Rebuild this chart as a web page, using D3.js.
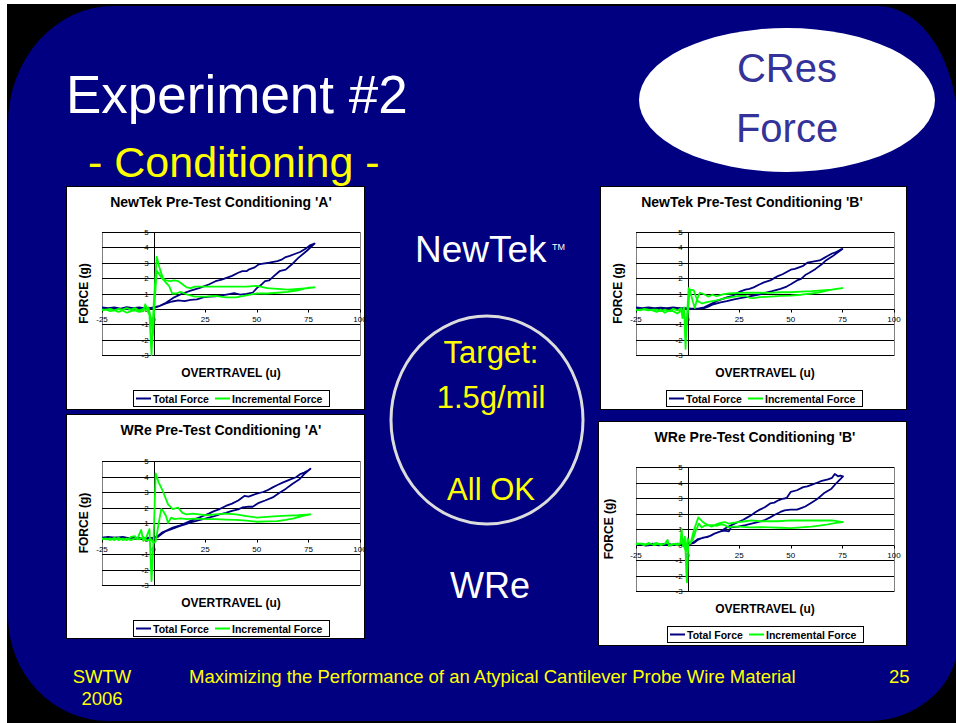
<!DOCTYPE html>
<html>
<head>
<meta charset="utf-8">
<script src="https://cdn.jsdelivr.net/npm/d3@7"></script>
<style>
  html, body { margin: 0; padding: 0; background: #fff; }
  svg { display: block; }
</style>
</head>
<body>
<div id="slide"></div>
<script>
// Data: [overtravel, force] pairs, loading branch then unloading branch
const newTekA_total = [[-25,0.1],[-22,0.05],[-19,0.1],[-16,0.02],[-13,0.12],[-10,0.05],[-7,0.1],[-4,0.03],[-1,0.08],[0,0.1],
  [3,0.2],[6,0.35],[9,0.48],[12,0.55],[15,0.5],[18,0.58],[21,0.62],[24,0.75],[27,0.8],[30,0.82],[33,0.88],[36,0.95],[39,1.02],[42,0.92],[45,0.98],[48,1.05],[50,1.35],[52,1.55],[54,1.8],[56,1.85],[58,2.1],[61,2.45],[64,2.55],[67,2.9],[70,3.3],[74,3.75],[78,4.25],
  [76,4.15],[74,3.95],[71,3.7],[69,3.6],[66,3.45],[64,3.37],[62,3.2],[60,3.1],[58,3.05],[56,3.0],[53,2.95],[51,2.9],[49,2.7],[48,2.65],[46,2.55],[45,2.45],[43,2.45],[41,2.35],[38,2.15],[35,2.0],[33,1.9],[30,1.8],[27,1.6],[25,1.5],[22,1.35],[18,1.18],[14,1.0],[10,0.75],[6,0.4],[3,0.2],[0,0.05],[-3,0.02],[-6,-0.02],[-9,0.04],[-12,-0.03],[-15,0.02],[-18,-0.02],[-21,0.03],[-25,0.05]];
const newTekA_incr = [[-25,-0.1],[-23,-0.05],[-21,-0.15],[-19,-0.1],[-17,-0.2],[-15,-0.1],[-13,-0.25],[-11,-0.15],[-9,-0.1],[-7,-0.2],[-5,-0.15],[-4,0.3],[-3,-0.1],[-2,-0.4],[-1,-3.0],[0,0.2],[1.5,3.4],[3,2.6],[4.5,2.0],[6,1.85],[8,1.8],[10,1.85],[12,1.8],[14,1.6],[16,1.4],[18,1.35],[20,1.45],[25,1.45],[30,1.45],[35,1.45],[40,1.45],[45,1.45],[50,1.5],[55,1.35],[60,1.3],[65,1.25],[70,1.3],[75,1.35],[78,1.4],
  [75,1.38],[70,1.2],[65,1.1],[60,1.05],[55,1.0],[50,1.0],[45,0.88],[40,0.75],[35,0.75],[30,0.85],[25,0.8],[20,0.8],[16,0.95],[13,1.1],[11,1.0],[9,1.0],[7.5,1.5],[6,1.7],[4,2.0],[2.5,2.3],[1.5,2.5],[0.5,0.4],[-0.3,-1.7],[-1.3,-0.6],[-2.5,0.1],[-3.5,-0.05],[-5,0],[-7,-0.1],[-9,0.05],[-11,-0.05],[-13,0.05],[-15,-0.05],[-17,0],[-19,-0.1],[-21,0],[-23,-0.05],[-25,-0.05]];

const newTekB_total = [[-25,0.1],[-22,0.05],[-19,0.1],[-16,0.05],[-13,0.08],[-10,0.05],[-7,0.1],[-4,0.05],[-1,0.05],[2,0.02],[5,0.02],[8,0.05],[10,0.15],[12.5,0.3],[16,0.42],[19,0.5],[22,0.6],[25.5,0.7],[29,0.78],[32,0.87],[35,0.95],[38,1.05],[41,1.15],[45,1.3],[48,1.45],[50,1.6],[53,1.85],[55,1.95],[57,2.2],[59,2.35],[62,2.6],[65,2.9],[67,3.15],[70,3.4],[72,3.6],[75,3.9],
  [74,3.85],[72,3.7],[70,3.6],[68,3.45],[66,3.3],[64,3.15],[62,3.1],[60,3.05],[58,3.0],[56,2.8],[54,2.7],[52,2.6],[50,2.55],[48,2.4],[46,2.25],[44,2.15],[42,2.0],[40,1.85],[37,1.72],[35,1.6],[32,1.4],[30,1.3],[28,1.25],[25,1.1],[22,0.85],[19,0.75],[16,0.6],[14,0.5],[11,0.3],[8,0.1],[5,0.02],[2,0.0],[-1,0.0],[-4,0.05],[-7,0.02],[-10,0.05],[-13,0],[-16,0.05],[-19,0.02],[-22,0.05],[-25,0.05]];
const newTekB_incr = [[-25,-0.05],[-23,-0.1],[-21,0],[-19,-0.05],[-17,-0.1],[-15,-0.2],[-13,-0.05],[-11,-0.25],[-9,-0.1],[-7,-0.15],[-5,-0.3],[-3,-0.1],[-2.5,-0.6],[-1.7,0.1],[-1,-2.6],[-0.3,-0.5],[0.5,1.35],[1.5,1.0],[2.5,0.5],[3.5,0.05],[4.5,0.6],[6,1.05],[8,0.95],[10,0.8],[12,0.92],[14,0.82],[17,0.95],[20,1.0],[25,1.04],[30,1.06],[35,1.05],[40,1.04],[45,1.08],[50,1.08],[55,1.12],[60,1.15],[65,1.2],[70,1.25],[75,1.35],
  [72,1.3],[68,1.2],[64,1.08],[60,1.0],[55,0.92],[50,0.86],[45,0.84],[40,0.8],[35,0.76],[32,0.7],[30,0.72],[28,0.85],[25,0.85],[22,0.78],[18,0.68],[14,0.55],[10,0.45],[7,0.35],[5,0.5],[4,0.8],[3,1.2],[1.5,1.25],[0.8,0.9],[0,-0.5],[-0.8,-1.8],[-1.5,-0.2],[-2.2,-0.3],[-3,0.05],[-5,-0.1],[-7,0],[-9,-0.15],[-11,-0.05],[-13,-0.15],[-15,-0.05],[-17,-0.05],[-19,-0.1],[-21,-0.05],[-23,-0.05],[-25,-0.1]];

const wreA_total = [[-25,0.05],[-22,0.1],[-19,0.05],[-16,0.08],[-13,0.02],[-10,0.05],[-7,0.0],[-4,0.03],[-1,0.02],[2,0.1],[4,0.3],[6,0.48],[9,0.62],[12.5,0.8],[16,0.95],[19,1.08],[22,1.18],[25.5,1.3],[29,1.42],[32,1.55],[35,1.65],[38,1.78],[41,1.88],[43,2.0],[46,2.05],[48,2.05],[51,2.3],[54,2.45],[57.7,2.65],[61,2.95],[64,3.2],[67,3.5],[70.5,3.8],[73,4.15],[76,4.5],
  [75,4.4],[73,4.25],[71,4.15],[69,3.95],[66,3.8],[62.5,3.6],[60,3.45],[57.7,3.3],[55,3.1],[53,3.0],[50,2.9],[48,2.8],[46,2.7],[44,2.75],[43,2.65],[41,2.45],[38,2.25],[35,2.1],[32,1.9],[29,1.75],[27,1.62],[24,1.45],[22,1.35],[19,1.2],[16,1.02],[13,0.85],[9.3,0.7],[6,0.5],[4,0.38],[2,0.15],[0,0.02],[-3,0.05],[-6,0.0],[-9,0.05],[-12,0.02],[-15,0.1],[-18,0.05],[-21,0.08],[-25,0.0]];
const wreA_incr = [[-25,-0.05],[-23,0.0],[-21,-0.1],[-19,0.05],[-17,-0.1],[-15,0.0],[-13,-0.1],[-11,0.1],[-9,0.15],[-8,-0.05],[-6,0.55],[-5,-0.15],[-3.5,0.1],[-2,0.6],[-1,-2.75],[0,0.0],[1,4.2],[2.5,3.6],[4.5,3.05],[7,2.2],[9.3,1.9],[11.8,2.0],[14,1.65],[16,1.55],[19,1.6],[22,1.55],[25.5,1.5],[30,1.55],[35,1.6],[40,1.55],[45,1.45],[50,1.35],[55,1.4],[60,1.45],[65,1.48],[70,1.5],[76,1.55],
  [72,1.45],[68,1.3],[64,1.2],[60,1.12],[55,1.1],[50,1.08],[45,1.15],[40,1.2],[35,1.22],[30,1.25],[25,1.25],[20,1.28],[16,1.25],[13,1.3],[10,1.25],[8.5,1.35],[7,1.0],[6,1.45],[4.5,1.8],[3.7,1.9],[2.5,1.0],[1,-0.2],[0,-0.3],[-1.5,0.0],[-3,-0.15],[-5,0.1],[-7,-0.05],[-9,0.0],[-11,-0.1],[-13,0.0],[-15,-0.1],[-17,0.05],[-19,-0.1],[-21,0.0],[-23,-0.05],[-25,0.0]];

const wreB_total = [[-25,0.05],[-22,0.0],[-19,-0.05],[-16,0.05],[-13,0.0],[-10,0.05],[-7,-0.02],[-4,0.03],[-1,0.0],[1,0.02],[3,0.15],[5,0.35],[8,0.45],[11,0.55],[13,0.7],[16,0.85],[18,0.9],[20,0.85],[21,1.1],[24.5,1.15],[28,1.25],[31,1.35],[34,1.45],[37,1.55],[40,1.75],[42,1.9],[45,2.1],[47,2.2],[50,2.25],[53,2.25],[55,2.35],[57,2.45],[60,2.7],[63,2.95],[66,3.3],[69.7,3.6],[72,3.95],[75.3,4.4],
  [74,4.45],[72.9,4.4],[71.3,4.55],[70,4.3],[68,4.2],[65,4.1],[63,4.0],[60,3.85],[58,3.75],[56,3.7],[53,3.5],[50,3.4],[48,3.0],[46,2.95],[44,2.85],[42,2.7],[40,2.65],[37.4,2.4],[35,2.25],[33,2.1],[31,1.9],[29,1.75],[27,1.6],[24.5,1.45],[22,1.3],[19,1.1],[16,0.85],[13,0.7],[10,0.5],[7,0.42],[5,0.3],[3,0.1],[1,0.02],[-2,0.0],[-5,0.05],[-8,-0.05],[-11,0.0],[-14,-0.05],[-17,0.05],[-20,-0.08],[-23,0.0],[-25,0.0]];
const wreB_incr = [[-25,0.0],[-23,0.05],[-21,-0.05],[-19,0.1],[-17,0.0],[-15,0.1],[-13,-0.05],[-11,0.05],[-9.7,0.3],[-9,-0.1],[-7,0.05],[-5,-0.05],[-3.5,0.1],[-2.9,1.0],[-2.2,-0.1],[-1.3,0.5],[-0.5,-2.1],[-0.3,-2.45],[0.3,0.0],[1.5,0.1],[3,0.9],[5.2,1.75],[7,1.5],[8.4,1.35],[10,1.25],[11.6,1.15],[13,1.25],[14.8,1.35],[16,1.4],[18,1.45],[20,1.35],[22,1.4],[24.5,1.45],[28,1.5],[31,1.55],[35,1.5],[40,1.5],[44,1.5],[50,1.55],[55,1.55],[60,1.55],[65,1.55],[70,1.55],[75.3,1.45],
  [72,1.4],[68,1.3],[64,1.22],[60,1.15],[55,1.1],[50,1.05],[45,1.08],[40,1.1],[35,1.12],[30,1.1],[25,1.15],[22,1.15],[20,1.1],[18,1.25],[16,1.3],[14,1.2],[12,1.25],[10,1.25],[8,1.2],[6.8,1.1],[5.5,1.35],[4,0.9],[2.5,0.3],[1,0.05],[0,0.4],[-0.8,-0.5],[-1.5,-0.2],[-2.5,0.15],[-4,0.0],[-6,0.05],[-8,-0.05],[-10,0.1],[-12,0.0],[-14,0.05],[-16,-0.05],[-18,0.05],[-20,0.0],[-22,0.05],[-25,0.05]];

const chartTitles = ["NewTek Pre-Test Conditioning 'A'", "NewTek Pre-Test Conditioning 'B'",
                     "WRe Pre-Test Conditioning 'A'", "WRe Pre-Test Conditioning 'B'"];
const seriesNames = ["Total Force", "Incremental Force"];
const xTicks = [-25, 0, 25, 50, 75, 100];
const yTicks = [-3, -2, -1, 0, 1, 2, 3, 4, 5];

// Styling
const FONT = "'Liberation Sans', Arial, Helvetica, sans-serif";
const NAVY = "#000080";
const GREEN = "#00FF00";
const YELLOW = "#FFFF00";
const SERIES_COLORS = [NAVY, GREEN];

// Chart placement on the slide
const charts = [
  { data: [newTekA_total, newTekA_incr], box: {x: 66, y: 186, w: 298, h: 223}, plot: {l: 102, t: 232, w: 258, h: 123}, titleX: 221, yTitleX: 88, legend: {x: 133, y: 390} },
  { data: [newTekB_total, newTekB_incr], box: {x: 600, y: 186, w: 306, h: 223}, plot: {l: 636, t: 232, w: 258, h: 123}, titleX: 752, yTitleX: 622, legend: {x: 666, y: 390} },
  { data: [wreA_total, wreA_incr],       box: {x: 66, y: 414, w: 298, h: 224}, plot: {l: 102, t: 461, w: 258, h: 124}, titleX: 221, yTitleX: 88, legend: {x: 133, y: 620} },
  { data: [wreB_total, wreB_incr],       box: {x: 598, y: 421, w: 308, h: 224}, plot: {l: 636, t: 467, w: 258, h: 124}, titleX: 755, yTitleX: 613, legend: {x: 667, y: 626} }
];

const W = 956, H = 723;
const svg = d3.select("#slide").append("svg")
  .attr("width", W).attr("height", H)
  .style("font-family", FONT);

// Background: black frame with navy rounded slide
svg.append("rect").attr("width", W).attr("height", H).attr("fill", "#fff");
svg.append("rect").attr("x", 7).attr("y", 4).attr("width", W - 7).attr("height", H - 4).attr("fill", "#000");

function slidePath(L, T, R, B, tl, tr, br, bl) {
  return `M${L + tl[0]},${T} H${R - tr[0]} A${tr[0]},${tr[1]} 0 0 1 ${R},${T + tr[1]}` +
    ` V${B - br[1]} A${br[0]},${br[1]} 0 0 1 ${R - br[0]},${B}` +
    ` H${L + bl[0]} A${bl[0]},${bl[1]} 0 0 1 ${L},${B - bl[1]}` +
    ` V${T + tl[1]} A${tl[0]},${tl[1]} 0 0 1 ${L + tl[0]},${T} Z`;
}
svg.append("path")
  .attr("d", slidePath(8, 6, 958, 721, [105, 118], [80, 125], [90, 80], [100, 105]))
  .attr("fill", NAVY);

// Headings
svg.append("text").attr("x", 66).attr("y", 113)
  .attr("fill", "#fff").style("font-size", "53px").text("Experiment #2");
svg.append("text").attr("x", 88).attr("y", 177)
  .attr("fill", YELLOW).style("font-size", "43px").text("- Conditioning -");

// CRes Force bubble
svg.append("ellipse").attr("cx", 787).attr("cy", 100).attr("rx", 148).attr("ry", 72).attr("fill", "#fff");
svg.append("text").attr("x", 787).attr("y", 82).attr("text-anchor", "middle")
  .attr("fill", "#333399").style("font-size", "40px").text("CRes");
svg.append("text").attr("x", 787).attr("y", 142).attr("text-anchor", "middle")
  .attr("fill", "#333399").style("font-size", "40px").text("Force");

// Middle labels
svg.append("text").attr("x", 415).attr("y", 262)
  .attr("fill", "#fff").style("font-size", "37px").text("NewTek");
svg.append("text").attr("x", 552).attr("y", 250)
  .attr("fill", "#fff").style("font-size", "9px").text("TM");
svg.append("ellipse").attr("cx", 487).attr("cy", 420).attr("rx", 96).attr("ry", 104)
  .attr("fill", "none").attr("stroke", "#dcdcdc").attr("stroke-width", 3);
[["Target:", 363], ["1.5g/mil", 408], ["All OK", 500]].forEach(([t, y]) => {
  svg.append("text").attr("x", 491).attr("y", y).attr("text-anchor", "middle")
    .attr("fill", YELLOW).style("font-size", "31px").text(t);
});
svg.append("text").attr("x", 490).attr("y", 598).attr("text-anchor", "middle")
  .attr("fill", "#fff").style("font-size", "36px").text("WRe");

// Footer
svg.append("text").attr("x", 102).attr("y", 683).attr("text-anchor", "middle")
  .attr("fill", YELLOW).style("font-size", "18.5px").text("SWTW");
svg.append("text").attr("x", 102).attr("y", 705).attr("text-anchor", "middle")
  .attr("fill", YELLOW).style("font-size", "18.5px").text("2006");
svg.append("text").attr("x", 189).attr("y", 683)
  .attr("fill", YELLOW).style("font-size", "18.5px")
  .text("Maximizing the Performance of an Atypical Cantilever Probe Wire Material");
svg.append("text").attr("x", 889).attr("y", 683)
  .attr("fill", YELLOW).style("font-size", "18.5px").text("25");

// Draw one small Excel-style chart
function drawChart(cfg, i) {
  const g = svg.append("g");
  const p = cfg.plot;

  const x = d3.scaleLinear().domain([-25, 100]).range([p.l, p.l + p.w]);
  const y = d3.scaleLinear().domain([-3, 5]).range([p.t + p.h, p.t]);

  g.append("rect")
    .attr("x", cfg.box.x + 0.5).attr("y", cfg.box.y + 0.5)
    .attr("width", cfg.box.w).attr("height", cfg.box.h)
    .attr("fill", "#fff").attr("stroke", "#000").attr("stroke-width", 1);

  g.append("text")
    .attr("x", cfg.titleX).attr("y", cfg.box.y + 21)
    .attr("text-anchor", "middle")
    .style("font-size", "14px").style("font-weight", "bold")
    .text(chartTitles[i]);

  // Plot area border and gridlines
  g.append("rect")
    .attr("x", p.l + 0.5).attr("y", p.t + 0.5).attr("width", p.w).attr("height", p.h)
    .attr("fill", "none").attr("stroke", "#808080");

  g.selectAll(".grid")
    .data(yTicks.filter(v => v !== 0 && v !== -3))
    .enter().append("line")
    .attr("x1", p.l).attr("x2", p.l + p.w)
    .attr("y1", d => Math.round(y(d)) + 0.5).attr("y2", d => Math.round(y(d)) + 0.5)
    .attr("stroke", "#000").attr("stroke-width", 1);
  g.append("line")
    .attr("x1", p.l).attr("x2", p.l + p.w)
    .attr("y1", Math.round(y(-3)) + 0.5).attr("y2", Math.round(y(-3)) + 0.5)
    .attr("stroke", "#000");

  // Axes crossing at 0
  const y0 = Math.round(y(0)) + 0.5;
  const x0 = Math.round(x(0)) + 0.5;
  g.append("line").attr("x1", p.l).attr("x2", p.l + p.w).attr("y1", y0).attr("y2", y0)
    .attr("stroke", "#000");
  g.append("line").attr("x1", x0).attr("x2", x0).attr("y1", p.t).attr("y2", p.t + p.h)
    .attr("stroke", "#000");

  g.selectAll(".xtick").data(xTicks).enter().append("line")
    .attr("x1", d => Math.round(x(d)) + 0.5).attr("x2", d => Math.round(x(d)) + 0.5)
    .attr("y1", y0).attr("y2", y0 + 3).attr("stroke", "#000");
  g.selectAll(".ytick").data(yTicks).enter().append("line")
    .attr("x1", x0 - 3).attr("x2", x0)
    .attr("y1", d => Math.round(y(d)) + 0.5).attr("y2", d => Math.round(y(d)) + 0.5)
    .attr("stroke", "#000");

  g.selectAll(".xlab").data(xTicks).enter().append("text")
    .attr("x", d => x(d)).attr("y", y(0) + 13)
    .attr("text-anchor", "middle").style("font-size", "8px")
    .text(d => d);
  g.selectAll(".ylab").data(yTicks).enter().append("text")
    .attr("x", x(0) - 5).attr("y", d => y(d) + 3)
    .attr("text-anchor", "end").style("font-size", "8px")
    .text(d => d);

  // Series
  const line = d3.line().x(d => x(d[0])).y(d => y(d[1]));
  cfg.data.forEach((series, k) => {
    g.append("path")
      .datum(series)
      .attr("d", line)
      .attr("fill", "none")
      .attr("stroke", SERIES_COLORS[k])
      .attr("stroke-width", 1.8)
      .attr("stroke-linejoin", "round");
  });

  // Axis titles
  g.append("text")
    .attr("x", p.l + p.w / 2).attr("y", p.t + p.h + 22)
    .attr("text-anchor", "middle")
    .style("font-size", "12px").style("font-weight", "bold")
    .text("OVERTRAVEL (u)");
  g.append("text")
    .attr("transform", `translate(${cfg.yTitleX},${p.t + p.h / 2}) rotate(-90)`)
    .attr("text-anchor", "middle")
    .style("font-size", "12px").style("font-weight", "bold")
    .text("FORCE (g)");

  // Legend
  const lg = g.append("g").attr("transform", `translate(${cfg.legend.x},${cfg.legend.y})`);
  lg.append("rect").attr("x", 0.5).attr("y", 0.5).attr("width", 196).attr("height", 16)
    .attr("fill", "#fff").attr("stroke", "#000");
  const offsets = [3, 82];
  seriesNames.forEach((name, k) => {
    lg.append("line")
      .attr("x1", offsets[k]).attr("x2", offsets[k] + 15)
      .attr("y1", 8.5).attr("y2", 8.5)
      .attr("stroke", SERIES_COLORS[k]).attr("stroke-width", 2);
    lg.append("text")
      .attr("x", offsets[k] + 17).attr("y", 12.5)
      .style("font-size", "10.5px").style("font-weight", "bold")
      .text(name);
  });
}

charts.forEach(drawChart);
</script>
</body>
</html>
